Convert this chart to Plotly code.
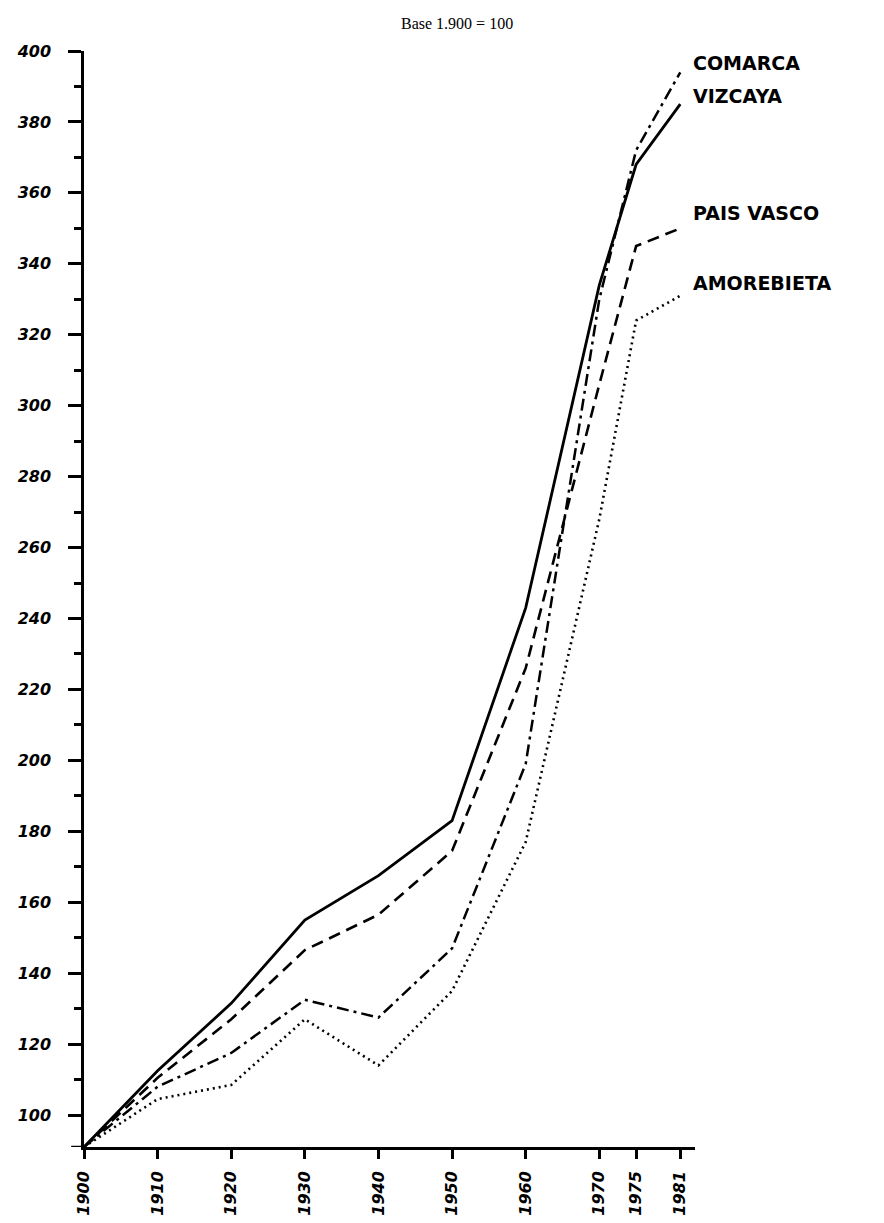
import plotly.graph_objects as go

years = [1900, 1910, 1920, 1930, 1940, 1950, 1960, 1970, 1975, 1981]
tick_labels = ["1900", "1910", "1920", "1930", "1940", "1950", "1960", "1970", "1975", "1981"]

comarca = [91, 108, 117.5, 132.5, 127.5, 147, 199, 330, 372, 394]
vizcaya = [91, 112.5, 131.5, 155, 167.5, 183, 243, 334, 368, 385]
pais_vasco = [91, 110.5, 127, 146.5, 156.5, 174.5, 226, 306, 345, 350]
amorebieta = [91, 104.5, 108.5, 127, 114, 135, 177, 268, 324, 331]

series_names = ["COMARCA", "VIZCAYA", "PAIS VASCO", "AMOREBIETA"]
series_values = [comarca, vizcaya, pais_vasco, amorebieta]
series_dash = ["12px,5px,3px,5px", "solid", "12px,7px", "2px,4px"]
series_width = [2.5, 2.8, 2.6, 2.6]
label_y = [396.5, 387.3, 354.3, 334.6]

fig = go.Figure()
for name, vals, dash, w in zip(series_names, series_values, series_dash, series_width):
    fig.add_trace(go.Scatter(x=years, y=vals, mode="lines", name=name,
                             line=dict(color="black", width=w, dash=dash),
                             showlegend=False))

for name, ly in zip(series_names, label_y):
    fig.add_annotation(x=1982.4, y=ly, xref="x", yref="y", text=name, showarrow=False,
                       xanchor="left", yanchor="middle",
                       font=dict(family="DejaVu Sans", size=19, color="black", weight="bold"))

fig.add_annotation(x=0.61, y=1.0, xref="paper", yref="paper", yshift=28,
                   text="Base 1.900 = 100", showarrow=False, xanchor="center", yanchor="middle",
                   font=dict(family="Liberation Serif", size=16, color="black"))

# small extension of x-axis line to the left of the corner
fig.add_shape(type="line", xref="paper", yref="y", x0=-0.021, x1=0, y0=91, y1=91,
              line=dict(color="black", width=2.5))

ytick_font = dict(family="DejaVu Sans", size=16, color="black", weight="bold", style="italic")
xtick_font = dict(family="DejaVu Sans", size=16, color="black", weight="bold", style="italic")

fig.update_layout(
    width=884, height=1223,
    margin=dict(l=76, r=197, t=43, b=84, autoexpand=False),
    plot_bgcolor="white", paper_bgcolor="white",
    xaxis=dict(range=[1900, 1983], showgrid=False, zeroline=False, automargin=False,
               showline=True, linecolor="black", linewidth=2.5,
               ticks="outside", ticklen=9, tickwidth=2.5, tickcolor="black",
               tickvals=years, ticktext=tick_labels, tickangle=-90,
               tickfont=xtick_font, ticklabelstandoff=6),
    yaxis=dict(range=[91, 400], showgrid=False, zeroline=False, automargin=False,
               showline=True, linecolor="black", linewidth=2.5,
               ticks="outside", ticklen=13, tickwidth=2.5, tickcolor="black",
               tick0=100, dtick=20, tickfont=ytick_font, ticklabelstandoff=14,
               minor=dict(ticks="outside", ticklen=7, tickwidth=2.5, tickcolor="black",
                          tick0=90, dtick=10, showgrid=False)),
)

fig.write_html("out.html")
